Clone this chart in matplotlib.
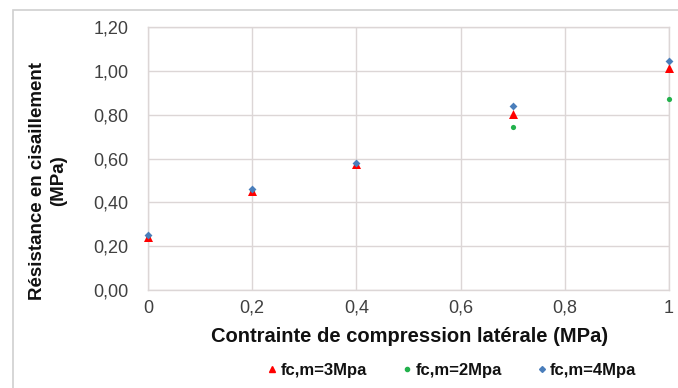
import matplotlib
matplotlib.use("Agg")
import matplotlib.pyplot as plt
from matplotlib.patches import Rectangle
from matplotlib.lines import Line2D

plt.rcParams['font.family'] = ['Liberation Sans', 'DejaVu Sans']

x_vals = [0, 0.2, 0.4, 0.7, 1.0]
fc3 = [0.243, 0.450, 0.573, 0.802, 1.013]
fc2 = [0.245, 0.452, 0.575, 0.743, 0.873]
fc4 = [0.251, 0.459, 0.580, 0.841, 1.045]

x_ticks = [0, 0.2, 0.4, 0.6, 0.8, 1.0]
x_tick_labels = ["0", "0,2", "0,4", "0,6", "0,8", "1"]
y_ticks = [0, 0.2, 0.4, 0.6, 0.8, 1.0, 1.2]
y_tick_labels = ["0,00", "0,20", "0,40", "0,60", "0,80", "1,00", "1,20"]

fig = plt.figure(figsize=(6.78, 3.88), dpi=100)
fig.patch.set_facecolor('white')

# outer chart frame (partly cut off at right/bottom)
fig.patches.append(Rectangle((13/678, -0.05), 1.2, 1 - 10/388 + 0.05,
                             transform=fig.transFigure, fill=False,
                             edgecolor='#D0D0D0', lw=1.2))

ax = fig.add_axes([148/678, 1 - 290/388, (669-148)/678, (290-27)/388])
ax.set_xlim(0, 1)
ax.set_ylim(0, 1.2)

grid_c = '#DCD6D6'
ax.set_xticks(x_ticks)
ax.set_xticklabels(x_tick_labels)
ax.set_yticks(y_ticks)
ax.set_yticklabels(y_tick_labels)
ax.grid(True, color=grid_c, lw=1.0)
ax.set_axisbelow(True)
for s in ax.spines.values():
    s.set_color(grid_c)
    s.set_linewidth(1.0)
ax.tick_params(length=0, labelsize=13, colors='#404040', pad=7)
ax.tick_params(axis='y', pad=14)

green = '#22B14C'
red = '#FF0000'
blue = '#4A7EBB'
ax.scatter(x_vals, fc2, marker='o', s=14, color=green, zorder=3, clip_on=False, linewidths=0)
ax.scatter(x_vals, fc3, marker='^', s=42, color=red, zorder=4, clip_on=False, linewidths=0)
ax.scatter(x_vals, fc4, marker='D', s=16, color=blue, zorder=5, clip_on=False, linewidths=0)

fig.text(410/678, 1 - 337/388, "Contrainte de compression latérale (MPa)",
         ha='center', va='center', fontsize=14.5, fontweight='bold', color='#111111')
fig.text(48/678, 1 - 181/388, "Résistance en cisaillement\n(MPa)", rotation=90,
         ha='center', va='center', fontsize=13.5, fontweight='bold', color='#111111',
         linespacing=1.35, multialignment='center')

handles = [
    Line2D([], [], marker='^', color=red, linestyle='none', markersize=5),
    Line2D([], [], marker='o', color=green, linestyle='none', markersize=3),
    Line2D([], [], marker='D', color=blue, linestyle='none', markersize=3),
]
labels = ["fc,m=3Mpa", "fc,m=2Mpa", "fc,m=4Mpa"]
leg = fig.legend(handles, labels, loc='center', bbox_to_anchor=(452/678, 1 - 370/388),
                 ncol=3, frameon=False, handlelength=0.6, handletextpad=0.2,
                 columnspacing=2.1, borderpad=0, borderaxespad=0,
                 prop={'weight': 'bold', 'size': 12})
for t in leg.get_texts():
    t.set_color('#111111')

fig.savefig("out.png", dpi=100)
